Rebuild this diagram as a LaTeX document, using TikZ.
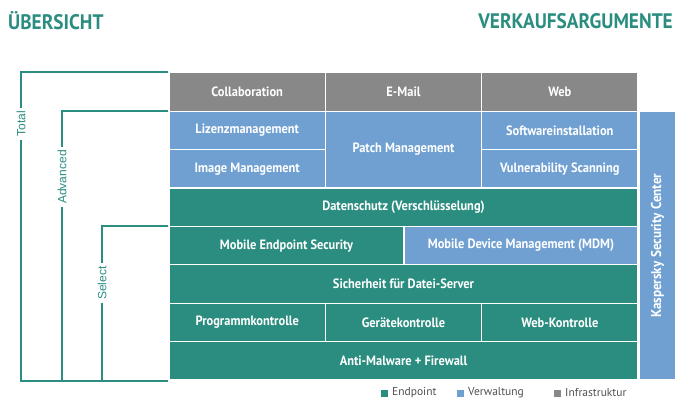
\documentclass[tikz,border=0pt]{standalone}
\usepackage{fontspec}
\setmainfont{PT Sans}
\newfontfamily\boxfont[FakeStretch=0.92]{PT Sans}
\newfontfamily\labelfont{Liberation Sans}
\usetikzlibrary{positioning,calc}
\definecolor{EndTeal}{RGB}{42,141,128}
\definecolor{AdmBlue}{RGB}{112,160,210}
\definecolor{InfGray}{RGB}{136,136,136}
\definecolor{LegText}{RGB}{80,80,80}

\begin{document}
\begin{tikzpicture}[x=1pt,y=-1pt,
  cell/.style={draw=white,line width=1.3pt,text=white,inner sep=0pt,
    font=\boxfont\bfseries\fontsize{13.5}{15}\selectfont},
  endp/.style={cell,fill=EndTeal},
  adm/.style={cell,fill=AdmBlue},
  infra/.style={cell,fill=InfGray},
  bracket/.style={EndTeal,line width=2pt},
  tier/.style={rotate=90,text=EndTeal,inner sep=3pt,font=\labelfont\fontsize{12}{14}\selectfont},
  title/.style={text=EndTeal,inner sep=0pt,font=\boxfont\bfseries\fontsize{21}{23}\selectfont},
  legbox/.style={minimum size=7pt,inner sep=0pt},
  legtext/.style={right,text=LegText,inner sep=0pt,font=\fontsize{11.5}{13}\selectfont}]
  \useasboundingbox (0,0) rectangle (680,410);
  % titles
  \node[title,anchor=west] (uebersicht) at (8,21) {ÜBERSICHT};
  \node[title,anchor=east] (verkauf) at (673,21) {VERKAUFSARGUMENTE};
  % infrastructure row
  \node[infra,minimum width=156.3pt,minimum height=38.4pt] (collab) at (247.2,92) {Collaboration};
  \node[infra,minimum width=156.3pt,minimum height=38.4pt] (email) at (403.5,92) {E-Mail};
  \node[infra,minimum width=156.3pt,minimum height=38.4pt] (web) at (559.8,92) {Web};
  % management rows
  \node[adm,minimum width=156.3pt,minimum height=38.4pt] (lizenz) at (247.2,130.4) {Lizenzmanagement};
  \node[adm,minimum width=156.3pt,minimum height=38.4pt] (image) at (247.2,168.8) {Image Management};
  \node[adm,minimum width=156.3pt,minimum height=76.8pt] (patch) at (403.5,149.6) {Patch Management};
  \node[adm,minimum width=156.3pt,minimum height=38.4pt] (software) at (559.8,130.4) {Softwareinstallation};
  \node[adm,minimum width=156.3pt,minimum height=38.4pt] (vuln) at (559.8,168.8) {Vulnerability Scanning};
  % endpoint rows
  \node[endp,minimum width=469pt,minimum height=38.4pt] (datenschutz) at (403.5,207.2) {Datenschutz (Verschlüsselung)};
  \node[endp,minimum width=235pt,minimum height=38.4pt] (mobile) at (286.5,245.6) {Mobile Endpoint Security};
  \node[adm,minimum width=234pt,minimum height=38.4pt] (mdm) at (521,245.6) {Mobile Device Management (MDM)};
  \node[endp,minimum width=469pt,minimum height=38.4pt] (server) at (403.5,284) {Sicherheit für Datei-Server};
  \node[endp,minimum width=156.3pt,minimum height=38.4pt] (programm) at (247.2,322.4) {Programmkontrolle};
  \node[endp,minimum width=156.3pt,minimum height=38.4pt] (geraete) at (403.5,322.4) {Gerätekontrolle};
  \node[endp,minimum width=156.3pt,minimum height=38.4pt] (webk) at (559.8,322.4) {Web-Kontrolle};
  \node[endp,minimum width=469pt,minimum height=38.4pt] (anti) at (403.5,360.8) {Anti-Malware + Firewall};
  % side bar
  \node[adm,minimum width=37pt,minimum height=269pt] (ksc) at (657.5,245.6) {};
  \node[rotate=90,text=white,font=\boxfont\bfseries\fontsize{14.2}{16}\selectfont] (ksclabel) at (ksc.center) {Kaspersky Security Center};
  % tiers
  \node[tier] (total) at (21,124) {Total};
  \node[tier] (advanced) at (62,177) {Advanced};
  \node[tier] (select) at (102,283) {Select};
  \draw[bracket] (collab.north west) -| (total.east);
  \draw[bracket] (total.west) |- (anti.south west);
  \draw[bracket] (lizenz.north west) -| (advanced.east);
  \draw[bracket] (advanced.west) -- (advanced.west |- anti.south);
  \draw[bracket] (mobile.north west) -| (select.east);
  \draw[bracket] (select.west) -- (select.west |- anti.south);
  % legend
  \node[legbox,fill=EndTeal] (legend1) at (384,393) {};
  \node[legtext] (legend1t) at (392,393) {Endpoint};
  \node[legbox,fill=AdmBlue] (legend2) at (460,393) {};
  \node[legtext] (legend2t) at (468,393) {Verwaltung};
  \node[legbox,fill=InfGray] (legend3) at (557,393) {};
  \node[legtext] (legend3t) at (565,393) {Infrastruktur};
\end{tikzpicture}
\end{document}
